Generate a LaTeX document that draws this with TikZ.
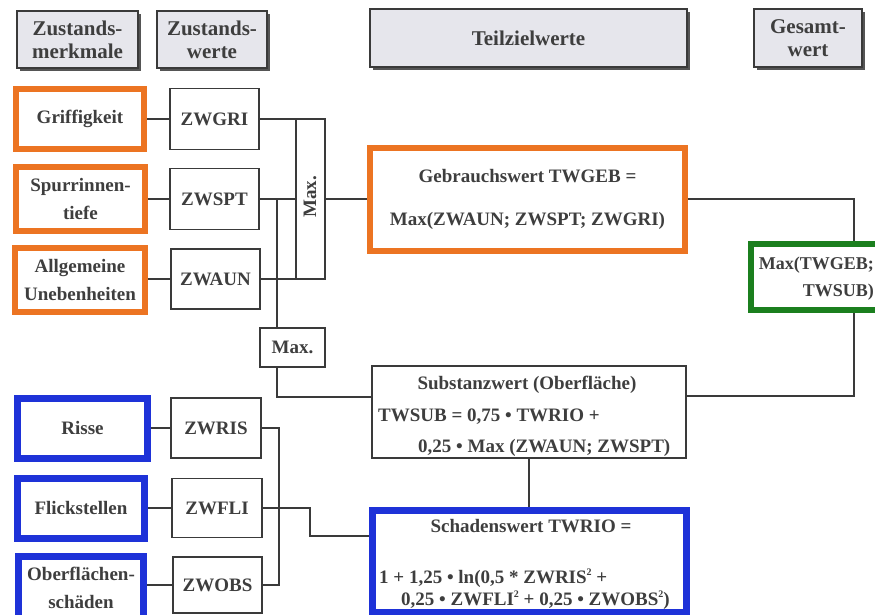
\documentclass[tikz,border=0pt]{standalone}
\usepackage{fontspec}
\setmainfont{Liberation Serif}[BoldFont={Liberation Serif Bold}]
\newfontfamily\tms{Liberation Serif}[BoldFont={Liberation Serif Bold}]
\usetikzlibrary{shadows}
\definecolor{txt}{HTML}{3E3E3E}
\definecolor{ln}{HTML}{3A3A3A}
\definecolor{org}{HTML}{EC7422}
\definecolor{blu}{HTML}{1E32D8}
\definecolor{grn}{HTML}{1B7F1E}
\definecolor{hdr}{HTML}{E6E6EC}
\definecolor{shd}{HTML}{555555}
\newcommand{\sqr}{\raisebox{0.42em}{\fontsize{10}{10}\selectfont 2}}
\begin{document}
\begin{tikzpicture}[x=1pt,y=-1pt,
 every node/.style={text=txt, font=\tms\bfseries\fontsize{19}{28}\selectfont, inner sep=0pt},
 hbox/.style={draw=ln, line width=1.2pt, fill=hdr, align=center, font=\tms\bfseries\fontsize{21}{23}\selectfont, drop shadow={shadow xshift=3pt, shadow yshift=-3pt, fill=shd, opacity=1}},
 obox/.style={draw=org, line width=6pt, align=center},
 bbox/.style={draw=blu, line width=7pt, align=center},
 gbox/.style={draw=grn, line width=6pt},
 gtxt/.style={anchor=base east, font=\tms\bfseries\fontsize{18}{27}\selectfont},
 wbox/.style={draw=ln, line width=1.2pt, align=center},
 conn/.style={draw=ln, line width=1.3pt},
]
\useasboundingbox (0,0) rectangle (875,615);
\clip (0,0) rectangle (875,615);
\fill[white] (0,0) rectangle (875,615);

% headers
\node[hbox, minimum width=121pt, minimum height=57pt] (hzm) at (77.5,39.5) {Zustands-\\merkmale};
\node[hbox, minimum width=110pt, minimum height=57pt] (hzw) at (212,39.5) {Zustands-\\werte};
\node[hbox, minimum width=317pt, minimum height=58pt] (htz) at (528.5,38) {Teilzielwerte};
\node[hbox, minimum width=108pt, minimum height=58pt] (hgw) at (808,38) {Gesamt-\\wert};

% orange feature boxes
\node[obox, minimum width=128pt, minimum height=60pt] (griff) at (80,119) {Griffigkeit};
\node[obox, minimum width=129pt, minimum height=64pt] (spur) at (80.5,199) {Spurrinnen-\\tiefe};
\node[obox, minimum width=130pt, minimum height=64pt] (allg) at (80,280) {Allgemeine\\Unebenheiten};

% value boxes (top)
\node[wbox, minimum width=89pt, minimum height=61pt] (zwgri) at (214.5,119) {ZWGRI};
\node[wbox, minimum width=89pt, minimum height=61pt] (zwspt) at (214.5,199) {ZWSPT};
\node[wbox, minimum width=89pt, minimum height=60pt] (zwaun) at (215.5,279) {ZWAUN};

% max boxes
\node[wbox, minimum width=29pt, minimum height=160pt] (maxv) at (310.5,199) {};
\node[rotate=90] (maxvt) at (310,197) {Max.};
\node[wbox, minimum width=65pt, minimum height=39pt] (maxs) at (292.5,347.5) {Max.};

% Gebrauchswert
\node[obox, minimum width=315pt, minimum height=103pt, font=\tms\bfseries\fontsize{19}{43}\selectfont] (geb) at (527.5,199) {Gebrauchswert TWGEB =\\Max(ZWAUN; ZWSPT; ZWGRI)};

% Gesamtwert
\node[gbox, minimum width=134pt, minimum height=66pt] (ges) at (818,277) {};
\node[gtxt] (ges1) at (874,269) {Max(TWGEB;};
\node[gtxt] (ges2) at (874,296) {TWSUB)};

% Substanzwert
\node[wbox, minimum width=314pt, minimum height=92pt] (sub) at (529,412) {};
\node[anchor=base] (sub1) at (527,389) {Substanzwert (Oberfläche)};
\node[anchor=base west] (sub2) at (378,421) {TWSUB = 0,75 • TWRIO +};
\node[anchor=base west] (sub3) at (418,452) {0,25 • Max (ZWAUN; ZWSPT)};

% Schadenswert
\node[bbox, minimum width=314pt, minimum height=101.5pt] (sch) at (529,561.25) {};
\node[anchor=base] (sch1) at (531,532) {Schadenswert TWRIO =};
\node[anchor=base west] (sch2) at (379,583) {1 + 1,25 • ln(0,5 * ZWRIS\sqr{} +};
\node[anchor=base west] (sch3) at (401,605) {0,25 • ZWFLI\sqr{} + 0,25 • ZWOBS\sqr)};

% blue feature boxes
\node[bbox, minimum width=130pt, minimum height=60pt] (risse) at (82.5,428) {Risse};
\node[bbox, minimum width=127pt, minimum height=60pt] (flick) at (81,508) {Flickstellen};
\node[bbox, minimum width=125pt, minimum height=64pt] (ober) at (81,588) {Oberflächen-\\schäden};

% value boxes (bottom)
\node[wbox, minimum width=90pt, minimum height=60pt] (zwris) at (216,428) {ZWRIS};
\node[wbox, minimum width=90pt, minimum height=59pt] (zwfli) at (217,508) {ZWFLI};
\node[wbox, minimum width=89pt, minimum height=56pt] (zwobs) at (217.5,585) {ZWOBS};

% connectors
\draw[conn] (griff.east) -- (zwgri.west);
\draw[conn] (spur.east) -- (zwspt.west);
\draw[conn] (allg.east |- zwaun.west) -- (zwaun.west);
\draw[conn] (zwgri.east) -- (zwgri.east -| maxv.west);
\draw[conn] (zwspt.east) -- (zwspt.east -| maxv.west);
\draw[conn] (zwaun.east) -- (zwaun.east -| maxv.west);
\draw[conn] (maxv.east) -- (maxv.east -| geb.west);
\coordinate (j1) at (277,199);
\draw[conn] (j1) -- (j1 |- maxs.north);
\coordinate (sl) at (0,397);
\draw[conn] (j1 |- maxs.south) |- (sub.west |- sl);
\coordinate (gx) at (854,0);
\draw[conn] (geb.east) -| (gx |- ges.north);
\coordinate (sr) at (0,396);
\draw[conn] (gx |- ges.south) |- (sub.east |- sr);
\draw[conn] (sub.south) -- (sch.north);

\draw[conn] (risse.east |- zwris.west) -- (zwris.west);
\draw[conn] (flick.east |- zwfli.west) -- (zwfli.west);
\draw[conn] (ober.east |- zwobs.west) -- (zwobs.west);
\coordinate (bx) at (279,0);
\draw[conn] (zwris.east) -- (zwris.east -| bx) -- (zwobs.east -| bx) -- (zwobs.east);
\coordinate (fx) at (310,536);
\draw[conn] (zwfli.east) -- (zwfli.east -| fx) -- (fx) -- (sch.west |- fx);
\end{tikzpicture}
\end{document}
